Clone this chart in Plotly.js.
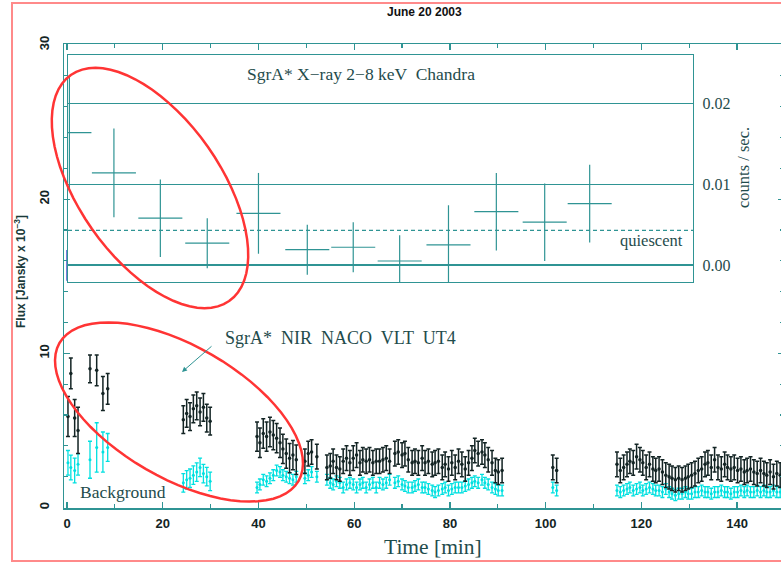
<!DOCTYPE html>
<html>
<head>
<meta charset="utf-8">
<script src="https://cdn.plot.ly/plotly-3.0.1.min.js"></script>
<style>html,body{margin:0;padding:0;overflow:hidden;background:#fff;}#chart{width:800px;height:563px;}</style>
</head>
<body>
<div id="chart"></div>
<script>
// ---------- Chandra X-ray light curve (counts / sec) ----------
const xrayTime = [0.5, 9.8, 19.5, 29.3, 40.0, 50.2, 59.8, 69.5, 79.7, 89.7, 99.8, 109.2];
const xrayRate = [0.0164, 0.0114, 0.0058, 0.0027, 0.0064, 0.0019, 0.0022, 0.0005, 0.0025, 0.0066, 0.0053, 0.0076];
const xrayErr  = [0.0070, 0.0055, 0.0048, 0.0031, 0.0050, 0.0031, 0.0031, 0.0032, 0.0049, 0.0048, 0.0048, 0.0048];
const xrayHalfBin = [4.6, 4.6, 4.6, 4.6, 4.6, 4.6, 4.6, 4.6, 4.6, 4.6, 4.6, 4.6];
const quiescentRate = 0.0043;
const xrayTicks = [0.00, 0.01, 0.02];

// ---------- NIR NACO light curve (mJy) ----------
const nirTimeA = [0.2, 0.8, 1.6, 2.3, 4.8, 6.2, 7.5, 8.5];
const nirFluxA = [5.9, 8.7, 5.8, 5.0, 9.0, 8.9, 7.4, 7.7];
const nirErrA  = [1.3, 1.0, 1.2, 1.5, 0.9, 1.0, 1.1, 1.0];
const bgFluxA  = [2.9, 2.6, 2.4, 2.8, 3.1, 3.9, 3.6, 3.9];
const bgErrA   = [0.8, 0.8, 0.8, 0.7, 1.2, 1.6, 1.3, 0.9];

const nirTimeB = [24.3, 25.0, 25.7, 26.4, 27.1, 27.8, 28.5, 29.2, 29.9];
const nirFluxB = [5.7, 6.1, 5.9, 6.4, 6.6, 6.2, 6.5, 5.8, 5.6];
const bgFluxB  = [1.6, 1.8, 1.9, 2.1, 2.3, 2.6, 2.2, 2.0, 1.7];

const nirTimeC = [39.7, 40.3, 41.0, 41.7, 42.4, 43.1, 43.8, 44.5, 45.1, 45.8,
                  46.5, 47.2, 47.9, 49.7, 50.4, 51.1, 52.2, 54.3, 55.0, 55.6,
                  56.3, 57.0, 57.7, 58.4, 59.1, 59.8, 60.5, 61.2, 61.8, 62.5,
                  63.2, 63.9, 64.6, 65.3, 66.0, 66.7, 67.4, 68.5, 69.2, 70.0,
                  70.6, 71.3, 72.1, 72.7, 73.4, 74.2, 74.8, 75.5, 76.3, 76.9,
                  77.6, 78.4, 79.0, 79.7, 80.4, 81.1, 81.8, 82.5, 83.2, 83.9,
                  84.6, 85.2, 85.9, 86.7, 87.3, 88.0, 88.8, 89.5, 90.1, 90.9];
const nirFluxC = [4.6, 4.2, 4.8, 4.6, 4.9, 4.7, 4.5, 4.2, 3.8, 3.5,
                  3.2, 3.4, 3.1, 3.0, 3.5, 3.6, 3.3, 2.6, 2.7, 3.0,
                  2.6, 2.5, 3.0, 3.2, 2.9, 3.2, 3.4, 2.9, 3.1, 3.0,
                  3.1, 2.9, 3.0, 3.0, 3.1, 3.2, 3.0, 3.5, 3.6, 3.4,
                  3.5, 3.1, 2.9, 3.0, 2.9, 3.2, 2.9, 3.0, 2.8, 2.9,
                  3.0, 2.6, 2.8, 2.5, 2.9, 2.6, 3.0, 2.8, 2.5, 2.9,
                  3.2, 3.7, 3.5, 3.6, 3.4, 3.1, 2.9, 2.4, 2.3, 2.4];
const bgFluxC  = [1.3, 1.5, 1.8, 1.7, 1.9, 2.1, 2.4, 2.3, 2.1, 2.0,
                  1.9, 1.8, 2.0, 1.9, 2.1, 2.3, 2.0, 1.8, 1.6, 1.5,
                  1.7, 1.6, 1.3, 1.5, 1.6, 1.5, 1.3, 1.5, 1.6, 1.3,
                  1.5, 1.6, 1.3, 1.6, 1.5, 1.6, 1.8, 1.6, 1.7, 1.5,
                  1.4, 1.3, 1.3, 1.4, 1.5, 1.3, 1.3, 1.2, 1.1, 1.0,
                  1.1, 1.2, 1.3, 1.1, 1.2, 1.3, 1.3, 1.3, 1.4, 1.5,
                  1.6, 1.7, 1.6, 1.8, 1.6, 1.5, 1.3, 1.2, 1.1, 1.1];

const nirTimeD = [101.5, 102.3];
const nirFluxD = [2.6, 2.4];
const bgFluxD  = [1.3, 1.1];

const nirTimeE = [114.9, 115.6, 116.3, 117.0, 117.6, 118.3, 119.0, 119.7, 120.3, 121.0,
                  121.7, 122.4, 123.0, 123.7, 124.4, 125.1, 125.8, 126.4, 127.1, 127.8,
                  128.5, 129.2, 129.8, 130.5, 131.2, 131.9, 132.6, 133.3, 133.9, 134.6,
                  135.3, 136.0, 136.7, 137.4, 138.0, 138.7, 139.4, 140.1, 140.8, 141.5,
                  142.1, 142.8, 143.5, 144.2, 144.9, 145.6, 146.2, 146.9, 147.6, 148.3, 149.0];
const nirFluxE = [2.8, 2.4, 2.6, 2.8, 3.0, 2.9, 3.3, 3.1, 2.9, 2.6,
                  2.8, 2.5, 2.4, 2.5, 2.3, 2.1, 2.0, 1.9, 1.8, 1.9,
                  1.8, 1.9, 2.0, 2.1, 2.2, 2.4, 2.5, 2.8, 2.9, 2.6,
                  3.1, 2.6, 2.5, 2.8, 2.6, 2.5, 2.6, 2.4, 2.5, 2.3,
                  2.4, 2.5, 2.3, 2.2, 2.4, 2.2, 2.1, 2.3, 2.0, 2.2, 2.1];
const bgFluxE  = [1.1, 1.0, 1.1, 1.2, 1.3, 1.1, 1.2, 1.3, 1.1, 1.2,
                  1.3, 1.2, 1.1, 1.1, 1.0, 1.2, 1.0, 0.9, 0.8, 0.9,
                  0.9, 1.0, 0.9, 0.9, 1.0, 1.0, 1.1, 1.0, 1.0, 0.9,
                  1.0, 1.0, 1.1, 1.0, 1.0, 0.9, 1.0, 1.0, 1.1, 1.0,
                  1.1, 1.0, 1.0, 1.1, 1.0, 1.1, 1.0, 1.0, 1.1, 1.0, 1.0];

const nirErrLate = 0.8;   // typical NIR error after the first flare
const nirErrMid  = 0.95;
const bgErrLate  = 0.35;

const blueTime = [0.0];
const blueFlux = [15.7];
const blueErr  = [1.0];

const fluxTicks = [0, 10, 20, 30];
const timeTicks = [0, 20, 40, 60, 80, 100, 120, 140];

// ---------- geometry / styling ----------
const W = 800, H = 563;
const M = {l: 64, r: 16, t: 44, b: 55};
const PW = W - M.l - M.r, PH = H - M.t - M.b;
const xRange = [-0.63, 149.8];
const yRange = [-0.03, 30.06];
const px2x = px => (px - M.l) / PW;
const py2y = py => (H - M.b - py) / PH;
const xAt = px => xRange[0] + px2x(px) * (xRange[1] - xRange[0]);

const teal = '#2f9494';
const darkTeal = '#1f4c4c';
const ink = '#132424';
const cyan = '#00e0e0';
const red = '#ff3434';

function concat(...arrs){ return [].concat(...arrs); }
function fill(arr, v){ return arr.map(() => v); }

const blackX = concat(nirTimeA, nirTimeB, nirTimeC, nirTimeD, nirTimeE);
const blackY = concat(nirFluxA, nirFluxB, nirFluxC, nirFluxD, nirFluxE);
const blackE = concat(nirErrA, fill(nirTimeB, 0.9),
  nirTimeC.map(t => t < 49 ? nirErrMid : nirErrLate), fill(nirTimeD, nirErrLate), fill(nirTimeE, nirErrLate));
const bgY = concat(bgFluxA, bgFluxB, bgFluxC, bgFluxD, bgFluxE);
const bgE = concat(bgErrA, fill(nirTimeB, 0.6), fill(nirTimeC, bgErrLate), fill(nirTimeD, bgErrLate), fill(nirTimeE, bgErrLate));

function ellipsePath(cx, cy, a, b, deg){
  const th = deg * Math.PI / 180; let d = '';
  for (let i = 0; i <= 72; i++){
    const s = i / 72 * 2 * Math.PI;
    const px = cx + a * Math.cos(s) * Math.cos(th) - b * Math.sin(s) * Math.sin(th);
    const py = cy + a * Math.cos(s) * Math.sin(th) + b * Math.sin(s) * Math.cos(th);
    d += (i === 0 ? 'M' : 'L') + px2x(px).toFixed(5) + ',' + py2y(py).toFixed(5);
  }
  return d + 'Z';
}

const traces = [
  {x: xrayTime, y: xrayRate, xaxis: 'x2', yaxis: 'y2', type: 'scatter', mode: 'markers',
   marker: {size: 1, color: teal, opacity: 0},
   error_x: {type: 'data', array: xrayHalfBin, visible: true, width: 0, thickness: 1.2, color: teal},
   error_y: {type: 'data', array: xrayErr, visible: true, width: 0, thickness: 1.2, color: teal},
   hoverinfo: 'skip', showlegend: false},
  {x: [xAt(68), xAt(693)], y: [quiescentRate, quiescentRate], xaxis: 'x2', yaxis: 'y2', type: 'scatter', mode: 'lines',
   line: {color: teal, width: 1.2, dash: '4px,3px'}, hoverinfo: 'skip', showlegend: false},
  {x: blackX, y: bgY, type: 'scatter', mode: 'markers',
   marker: {size: 3, color: cyan},
   error_y: {type: 'data', array: bgE, visible: true, width: 2, thickness: 1.3, color: cyan},
   hoverinfo: 'skip', showlegend: false},
  {x: blackX, y: blackY, type: 'scatter', mode: 'markers',
   marker: {size: 3.5, color: ink},
   error_y: {type: 'data', array: blackE, visible: true, width: 2, thickness: 1.5, color: ink},
   hoverinfo: 'skip', showlegend: false},
  {x: blueTime, y: blueFlux, type: 'scatter', mode: 'markers',
   marker: {size: 1, color: '#4a4ad0', opacity: 0},
   error_y: {type: 'data', array: blueErr, visible: true, width: 0, thickness: 1.5, color: '#4a4ad0'},
   hoverinfo: 'skip', showlegend: false}
];

const tickFont = {family: 'Liberation Sans, Arial, sans-serif', size: 13, color: ink, weight: 'bold'};
const serif = 'Liberation Serif, Times New Roman, serif';

function note(text, px, py, font, extra){
  return Object.assign({text: text, xref: 'paper', yref: 'paper', x: px2x(px), y: py2y(py),
    xanchor: 'center', yanchor: 'middle', showarrow: false, font: font}, extra || {});
}

const layout = {
  width: W, height: H, margin: M,
  paper_bgcolor: '#ffffff', plot_bgcolor: 'rgba(0,0,0,0)',
  showlegend: false,
  xaxis: {range: xRange, domain: [0, 1], anchor: 'y', showgrid: false, zeroline: false,
    showline: true, linecolor: teal, linewidth: 1.5, mirror: 'ticks',
    ticks: 'inside', ticklen: 6, tickwidth: 1.2, tickcolor: teal,
    tickvals: timeTicks, ticktext: timeTicks.map(String), tickfont: tickFont, ticklabelstandoff: 3,
    minor: {dtick: 10, tick0: 0, ticks: 'inside', ticklen: 4, tickcolor: teal, tickwidth: 1.2}},
  yaxis: {range: yRange, domain: [0, 1], anchor: 'x', showgrid: false, zeroline: false,
    showline: true, linecolor: teal, linewidth: 1.5, mirror: 'ticks',
    ticks: 'inside', ticklen: 6, tickwidth: 1.2, tickcolor: teal,
    tickvals: fluxTicks, ticktext: fluxTicks.map(String), tickangle: -90, tickfont: tickFont, ticklabelstandoff: 8,
    minor: {dtick: 2, tick0: 0, ticks: 'inside', ticklen: 4, tickcolor: teal, tickwidth: 1.2}},
  xaxis2: {domain: [px2x(68), px2x(693)], range: [xAt(68), xAt(693)], anchor: 'y2',
    showgrid: false, zeroline: false, showticklabels: false, ticks: '',
    showline: true, linecolor: teal, linewidth: 1.3, mirror: true},
  yaxis2: {domain: [py2y(282), py2y(55)], range: [-0.0021, 0.0260], anchor: 'x2', side: 'right',
    showgrid: true, gridcolor: teal, gridwidth: 1.3, zeroline: false,
    tickvals: xrayTicks, ticktext: xrayTicks.map(v => v.toFixed(2)), ticks: '',
    tickfont: {family: serif, size: 16, color: darkTeal}, ticklabelstandoff: 5,
    showline: true, linecolor: teal, linewidth: 1.3, mirror: true},
  shapes: [
    {type: 'rect', xref: 'paper', yref: 'paper', x0: px2x(12), x1: px2x(900), y0: py2y(561), y1: py2y(3),
     line: {color: '#ff8a8a', width: 2}, layer: 'below'},
    {type: 'path', xref: 'paper', yref: 'paper', path: ellipsePath(150, 188, 138, 71, 55),
     line: {color: red, width: 2.5}},
    {type: 'path', xref: 'paper', yref: 'paper', path: ellipsePath(179, 412, 138, 66, 30),
     line: {color: red, width: 2.5}}
  ],
  annotations: [
    note('June 20 2003', 424, 12, {family: 'Liberation Sans, Arial, sans-serif', size: 12, color: '#111', weight: 'bold'}),
    note('SgrA* X−ray 2−8 keV  Chandra', 361, 74, {family: serif, size: 17.5, color: darkTeal}),
    note('quiescent', 651, 240, {family: serif, size: 16.5, color: darkTeal}),
    note('counts / sec.', 743, 168, {family: serif, size: 16.5, color: darkTeal}, {textangle: -90}),
    note('SgrA*  NIR  NACO  VLT  UT4', 340, 338, {family: serif, size: 18, color: darkTeal}),
    {text: '', xref: 'paper', yref: 'paper', x: px2x(182), y: py2y(372), ax: 31, ay: -27, showarrow: true,
     arrowhead: 2, arrowsize: 1, arrowwidth: 1, arrowcolor: teal},
    note('Background', 123, 492, {family: serif, size: 17.5, color: darkTeal}),
    note('Time [min]', 433, 547, {family: serif, size: 21.5, color: darkTeal}),
    note('Flux [Jansky x 10<sup>−3</sup>]', 20, 272, {family: 'Liberation Sans, Arial, sans-serif', size: 12, color: '#1a3a3a', weight: 'bold'}, {textangle: -90})
  ]
};

Plotly.newPlot('chart', traces, layout, {staticPlot: true, displayModeBar: false});
</script>
</body>
</html>
